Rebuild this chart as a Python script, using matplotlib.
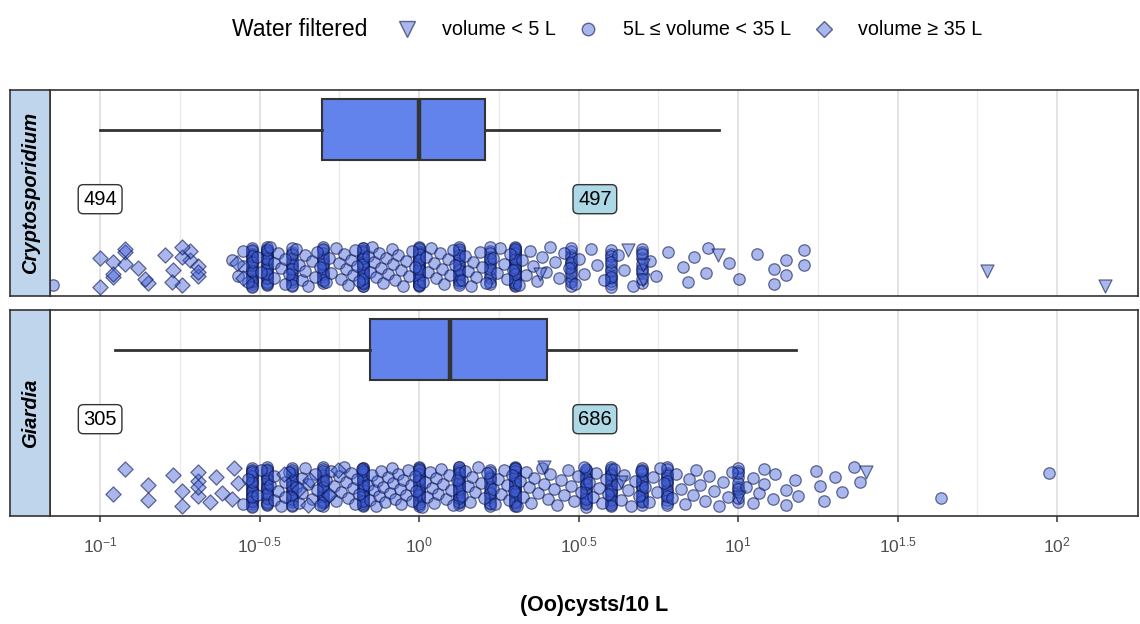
import matplotlib

matplotlib.use("Agg")
import matplotlib.pyplot as plt
import numpy as np
from matplotlib.lines import Line2D

plt.rcParams["font.family"] = ["Liberation Sans", "DejaVu Sans"]

panels = ["Cryptosporidium", "Giardia"]
n_left = [494, 305]
n_right = [497, 686]

# boxplot statistics, (oo)cysts/10 L
box_whislo = [0.100, 0.111]
box_q1 = [0.495, 0.70]
box_med = [1.00, 1.25]
box_q3 = [1.61, 2.51]
box_whishi = [8.7, 15.2]

# repeated values (the dark vertical stacks), 5 L <= volume < 35 L
crypto_stack_values = [0.3, 0.333, 0.4, 0.5, 0.667, 1.0, 1.333, 1.667, 2.0, 3.0, 4.0, 5.0]
crypto_stack_counts = [26, 28, 18, 18, 34, 38, 20, 14, 36, 14, 14, 10]
giardia_stack_values = [0.3, 0.333, 0.4, 0.5, 0.667, 1.0, 1.333, 1.667, 2.0, 3.333, 4.0, 5.0, 6.0, 10.0]
giardia_stack_counts = [28, 26, 22, 22, 34, 32, 30, 16, 36, 22, 24, 18, 18, 10]

# other single samples, 5 L <= volume < 35 L
crypto_circles = [
    0.071, 0.26, 0.27, 0.28, 0.28, 0.29, 0.31, 0.32, 0.34, 0.35, 0.35, 0.36, 0.37, 0.38, 0.38, 0.39,
    0.41, 0.42, 0.43, 0.44, 0.44, 0.45, 0.46, 0.47, 0.48, 0.49,
    0.51, 0.52, 0.53, 0.55, 0.56, 0.57, 0.58, 0.59, 0.60, 0.61, 0.62, 0.63, 0.64, 0.65,
    0.69, 0.70, 0.71, 0.72, 0.73, 0.75, 0.76, 0.77, 0.79, 0.80, 0.82, 0.83, 0.84, 0.86, 0.88,
    0.89, 0.91, 0.93, 0.95, 0.97,
    1.03, 1.05, 1.07, 1.09, 1.11, 1.13, 1.16, 1.18, 1.20, 1.23, 1.25, 1.28, 1.30,
    1.36, 1.39, 1.42, 1.45, 1.48, 1.51, 1.55, 1.58, 1.62, 1.71, 1.75, 1.79, 1.84, 1.88, 1.93, 1.97,
    2.05, 2.10, 2.16, 2.22, 2.28, 2.35, 2.42, 2.50, 2.58, 2.66, 2.75, 2.85, 2.95,
    3.08, 3.18, 3.30, 3.45, 3.60, 3.80, 4.2, 4.4, 4.7, 5.3, 5.53, 6.03, 6.72, 6.96, 7.28,
    7.94, 8.06, 9.38, 10.08, 11.5, 13.0, 13.0, 14.1, 14.1, 16.1, 16.1,
]
giardia_circles = [
    0.28, 0.29, 0.31, 0.32, 0.34, 0.35, 0.35, 0.36, 0.37, 0.38, 0.38, 0.39,
    0.41, 0.42, 0.43, 0.43, 0.44, 0.45, 0.46, 0.47, 0.48, 0.49,
    0.51, 0.52, 0.53, 0.54, 0.55, 0.56, 0.57, 0.58, 0.59, 0.60, 0.61, 0.62, 0.63, 0.64, 0.65, 0.66,
    0.69, 0.70, 0.71, 0.72, 0.73, 0.74, 0.75, 0.76, 0.77, 0.78, 0.80, 0.81, 0.82, 0.83, 0.84,
    0.86, 0.87, 0.88, 0.89, 0.91, 0.92, 0.94, 0.95, 0.97, 0.98,
    1.02, 1.04, 1.06, 1.08, 1.10, 1.11, 1.13, 1.15, 1.17, 1.19, 1.21, 1.24, 1.26, 1.28, 1.31,
    1.36, 1.39, 1.42, 1.44, 1.47, 1.50, 1.53, 1.56, 1.60, 1.63, 1.70, 1.73, 1.77, 1.80, 1.84,
    1.88, 1.91, 1.95, 1.98,
    2.03, 2.07, 2.12, 2.16, 2.21, 2.25, 2.30, 2.36, 2.42, 2.47, 2.53, 2.58, 2.64, 2.71, 2.78,
    2.85, 2.92, 3.0, 3.07, 3.15, 3.22, 3.28,
    3.42, 3.50, 3.58, 3.66, 3.75, 3.85, 3.92, 4.08, 4.18, 4.28, 4.40, 4.52, 4.63, 4.75, 4.88, 4.96,
    5.1, 5.25, 5.4, 5.55, 5.7, 5.85, 6.2, 6.4, 6.6, 6.8, 7.0, 7.2, 7.4, 7.6, 7.9, 8.1, 8.4,
    8.7, 9.0, 9.3, 9.6,
    10.6, 11.1, 11.1, 11.6, 12.1, 12.1, 12.9, 13.1, 14.1, 14.1, 15.1, 15.4, 17.6, 18.1, 18.6,
    20.2, 21.2, 23.1, 24.2, 43.4, 94.6,
]

# volume >= 35 L
crypto_diamonds = [
    0.100, 0.110, 0.110, 0.120, 0.131, 0.141, 0.100, 0.110, 0.120, 0.120, 0.138, 0.160,
    0.169, 0.181, 0.192, 0.202, 0.192, 0.202, 0.168, 0.181, 0.202, 0.181, 0.269, 0.281,
]
giardia_diamonds = [
    0.110, 0.120, 0.141, 0.141, 0.169, 0.181, 0.181, 0.202, 0.202, 0.202, 0.202, 0.221,
    0.230, 0.241, 0.262, 0.271, 0.260, 0.376, 0.419, 0.450, 0.455, 0.520, 0.558,
]

# volume < 5 L
crypto_triangles = [2.40, 4.52, 5.03, 5.03, 8.65, 60.5, 141.0]
giardia_triangles = [2.46, 4.3, 10.07, 25.2]

FACE = (0.26, 0.38, 0.85, 0.45)
EDGE = (0.04, 0.08, 0.30, 0.60)
GRID = "#e0e0e0"
DARK = "#333333"


def jitter(n, start):
    # spread points evenly over the lower band of the panel
    k = np.arange(start, start + n)
    return 0.045 + 0.195 * ((k * 0.6180339887 + 0.17) % 1.0)


def draw_panel(ax, strip_ax, i, stack_values, stack_counts, circles, diamonds, triangles):
    ax.set_xscale("log")
    ax.set_xlim(10 ** -1.157, 10 ** 2.254)
    ax.set_ylim(0, 1)

    major = [10 ** e for e in (-1, -0.5, 0, 0.5, 1, 1.5, 2)]
    minor = [10 ** e for e in (-0.75, -0.25, 0.25, 0.75, 1.25, 1.75)]
    for x in major:
        ax.axvline(x, color=GRID, lw=1.3, zorder=0)
    for x in minor:
        ax.axvline(x, color="#ebebeb", lw=1.0, zorder=0)

    ax.bxp(
        [dict(med=box_med[i], q1=box_q1[i], q3=box_q3[i],
              whislo=box_whislo[i], whishi=box_whishi[i], fliers=[])],
        positions=[0.806], widths=0.296, orientation="horizontal",
        showcaps=False, showfliers=False, patch_artist=True, manage_ticks=False,
        boxprops=dict(facecolor="#6383ec", edgecolor=DARK, linewidth=1.5),
        medianprops=dict(color=DARK, linewidth=3.2),
        whiskerprops=dict(color=DARK, linewidth=2.0),
    )

    stacked = np.repeat(stack_values, stack_counts)
    circ_x = np.concatenate([stacked, circles])
    start = 0
    ax.scatter(circ_x, jitter(len(circ_x), start), s=68, marker="o",
               facecolor=FACE, edgecolor=EDGE, linewidths=0.9, zorder=3)
    start += len(circ_x)
    ax.scatter(diamonds, jitter(len(diamonds), start + 3), s=60, marker="D",
               facecolor=FACE, edgecolor=EDGE, linewidths=0.9, zorder=3)
    start += len(diamonds)
    ax.scatter(triangles, jitter(len(triangles), start + 7), s=88, marker="v",
               facecolor=FACE, edgecolor=EDGE, linewidths=0.9, zorder=3)

    ax.text(0.1, 0.47, str(n_left[i]), ha="center", va="center", fontsize=14.5,
            transform=ax.get_xaxis_transform(),
            bbox=dict(boxstyle="round,pad=0.25", fc="white", ec=DARK, lw=1.0))
    ax.text(10 ** 0.551, 0.47, str(n_right[i]), ha="center", va="center", fontsize=14.5,
            transform=ax.get_xaxis_transform(),
            bbox=dict(boxstyle="round,pad=0.25", fc="lightblue", ec=DARK, lw=1.0))

    ax.set_yticks([])
    ax.set_xticks(major)
    ax.set_xticks([], minor=True)
    for sp in ax.spines.values():
        sp.set_color(DARK)
        sp.set_linewidth(1.2)

    strip_ax.set_facecolor("#bed5ec")
    strip_ax.set_xticks([])
    strip_ax.set_yticks([])
    for sp in strip_ax.spines.values():
        sp.set_color(DARK)
        sp.set_linewidth(1.2)
    strip_ax.text(0.5, 0.5, panels[i], rotation=90, ha="center", va="center",
                  fontsize=14.5, fontweight="bold", fontstyle="italic",
                  transform=strip_ax.transAxes)


fig = plt.figure(figsize=(11.4, 6.24), dpi=100)
ax_top = fig.add_axes([0.0439, 0.5256, 0.9544, 0.3302])
ax_bot = fig.add_axes([0.0439, 0.1731, 0.9544, 0.3301])
strip_top = fig.add_axes([0.0088, 0.5256, 0.0351, 0.3302])
strip_bot = fig.add_axes([0.0088, 0.1731, 0.0351, 0.3301])

draw_panel(ax_top, strip_top, 0, crypto_stack_values, crypto_stack_counts,
           crypto_circles, crypto_diamonds, crypto_triangles)
draw_panel(ax_bot, strip_bot, 1, giardia_stack_values, giardia_stack_counts,
           giardia_circles, giardia_diamonds, giardia_triangles)

tick_labels = [r"$\mathregular{10^{-1}}$", r"$\mathregular{10^{-0.5}}$", r"$\mathregular{10^{0}}$",
               r"$\mathregular{10^{0.5}}$", r"$\mathregular{10^{1}}$", r"$\mathregular{10^{1.5}}$",
               r"$\mathregular{10^{2}}$"]
ax_top.tick_params(axis="x", length=0, labelbottom=False)
ax_bot.set_xticklabels(tick_labels)
ax_bot.tick_params(axis="x", length=4, width=1.1, color=DARK, labelcolor="#4d4d4d",
                   labelsize=12.5, pad=10)

fig.text(0.521, 0.030, "(Oo)cysts/10 L", ha="center", va="center",
         fontsize=15.5, fontweight="bold")

# legend on top
fig.text(0.2035, 0.952, "Water filtered", ha="left", va="center", fontsize=16.5)
handles = [
    Line2D([], [], ls="none", marker="v", markersize=11, markerfacecolor=FACE,
           markeredgecolor=EDGE, label="volume < 5 L"),
    Line2D([], [], ls="none", marker="o", markersize=9, markerfacecolor=FACE,
           markeredgecolor=EDGE, label="5L \u2264 volume < 35 L"),
    Line2D([], [], ls="none", marker="D", markersize=8, markerfacecolor=FACE,
           markeredgecolor=EDGE, label="volume \u2265 35 L"),
]
fig.legend(handles=handles, loc="center left", bbox_to_anchor=(0.3418, 0.952), ncol=3,
           frameon=False, fontsize=14.2, handlelength=1.0, handletextpad=1.25,
           columnspacing=1.15, borderaxespad=0)

fig.savefig("out.png", dpi=100)
plt.close(fig)
